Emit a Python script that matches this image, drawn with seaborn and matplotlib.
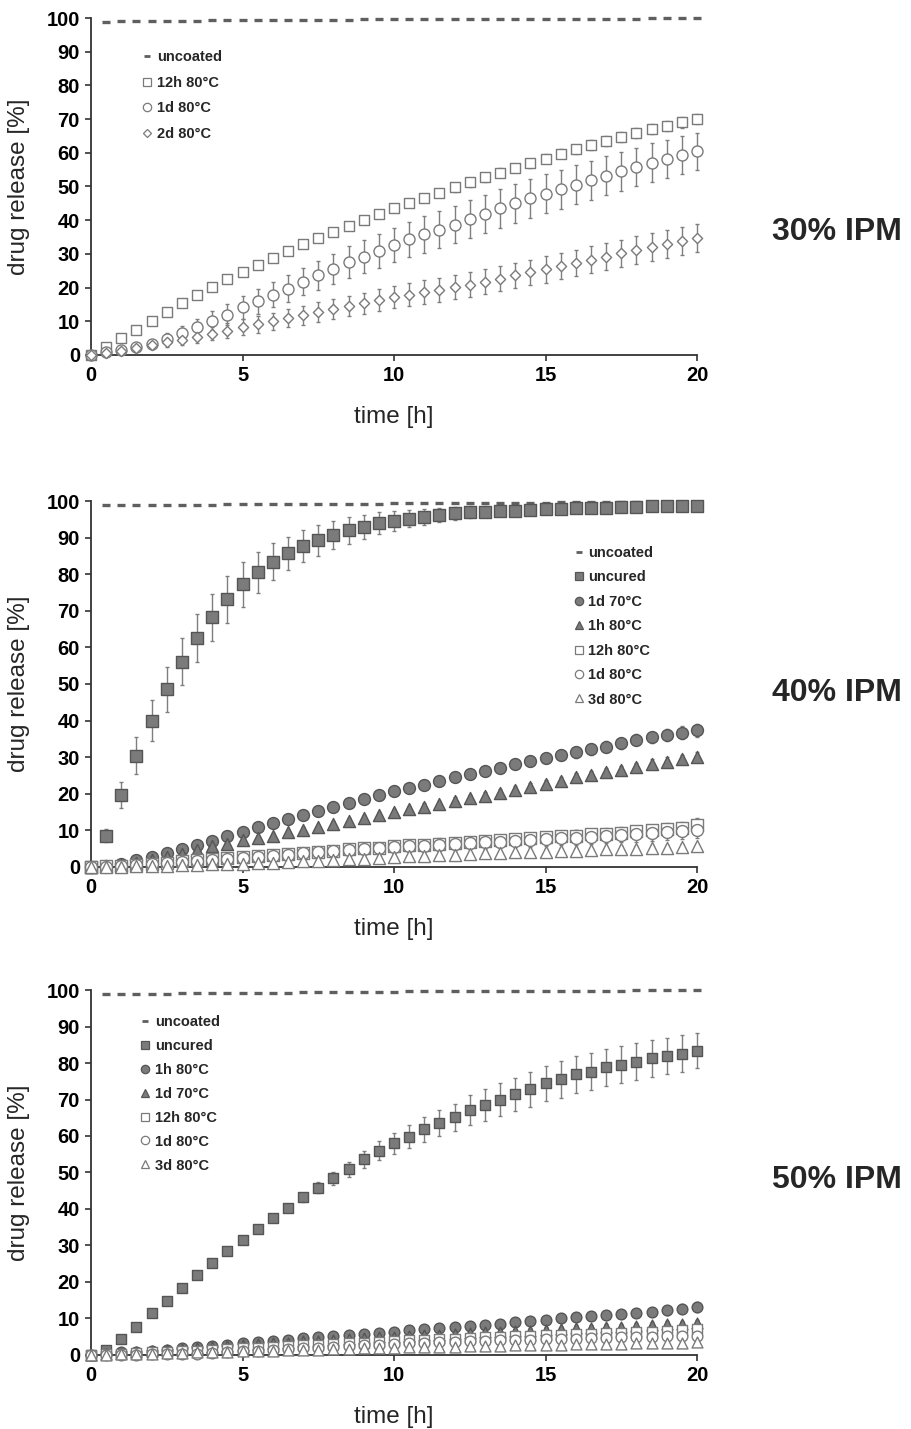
import matplotlib
matplotlib.use("Agg")
import matplotlib.pyplot as plt
from matplotlib.lines import Line2D
import seaborn as sns
import pandas as pd

sns.set_style("ticks")
plt.rcParams['font.family'] = ['Liberation Sans', 'DejaVu Sans']

# ---------------- data ----------------
TIME = [0, 0.5, 1, 1.5, 2, 2.5, 3, 3.5, 4, 4.5, 5, 5.5, 6, 6.5, 7, 7.5, 8, 8.5, 9, 9.5,
        10, 10.5, 11, 11.5, 12, 12.5, 13, 13.5, 14, 14.5, 15, 15.5, 16, 16.5, 17, 17.5,
        18, 18.5, 19, 19.5, 20]
TIME_UNCOATED = TIME[1:]

X_TICKS = [0, 5, 10, 15, 20]
Y_TICKS = [0, 10, 20, 30, 40, 50, 60, 70, 80, 90, 100]
PANEL_TITLES = ["30% IPM", "40% IPM", "50% IPM"]

# 30% IPM
top_uncoated = [98.9, 99.0, 99.0, 99.1, 99.1, 99.2, 99.2, 99.3, 99.3, 99.3, 99.4, 99.4, 99.4, 99.5,
                99.5, 99.5, 99.5, 99.6, 99.6, 99.6, 99.6, 99.6, 99.7, 99.7, 99.7, 99.7, 99.7, 99.7,
                99.8, 99.8, 99.8, 99.8, 99.8, 99.8, 99.8, 99.8, 99.9, 99.9, 99.9, 99.9]
top_12h = [0, 2.3, 5.0, 7.4, 10.0, 12.7, 15.4, 17.9, 20.3, 22.5, 24.6, 26.8, 28.9, 31.0, 33.0,
           34.6, 36.4, 38.3, 40.0, 41.9, 43.6, 45.2, 46.7, 48.2, 49.7, 51.2, 52.7, 54.1, 55.5,
           56.9, 58.3, 59.7, 61.0, 62.3, 63.5, 64.7, 65.9, 67.0, 68.0, 69.0, 70.0]
top_12h_err = [0, 0.3, 0.4, 0.5, 0.6, 0.7, 0.8, 0.8, 0.9, 0.9, 1.0, 1.0, 1.0, 1.1, 1.1, 1.1, 1.1,
               1.2, 1.2, 1.2, 1.2, 1.2, 1.2, 1.2, 1.3, 1.3, 1.3, 1.3, 1.3, 1.3, 1.3, 1.3, 1.4, 1.4,
               1.4, 1.4, 1.4, 1.4, 1.4, 1.5, 1.5]
top_1d = [0, 0.9, 1.4, 2.3, 3.2, 4.7, 6.4, 8.2, 10.2, 12.0, 14.1, 15.9, 17.9, 19.7, 21.8, 23.6,
          25.6, 27.5, 29.1, 30.9, 32.7, 34.3, 35.8, 37.2, 38.7, 40.3, 41.8, 43.5, 45.0, 46.5,
          47.9, 49.2, 50.5, 51.8, 53.2, 54.5, 55.8, 57.1, 58.2, 59.4, 60.5]
top_1d_err = [0, 0.4, 0.6, 0.9, 1.3, 1.7, 2.1, 2.5, 2.8, 3.1, 3.4, 3.6, 3.8, 3.9, 4.1, 4.3, 4.5,
              4.7, 4.9, 5.0, 5.1, 5.3, 5.4, 5.5, 5.6, 5.6, 5.7, 5.7, 5.8, 5.8, 5.8, 5.8, 5.8, 5.8,
              5.8, 5.8, 5.7, 5.7, 5.6, 5.6, 5.5]
top_2d = [0, 0.6, 1.2, 2.0, 2.9, 3.7, 4.5, 5.4, 6.3, 7.2, 8.2, 9.1, 10.0, 10.9, 11.8, 12.8, 13.6,
          14.5, 15.4, 16.3, 17.2, 17.9, 18.6, 19.3, 20.1, 20.9, 21.7, 22.6, 23.6, 24.5, 25.4,
          26.4, 27.3, 28.3, 29.2, 30.2, 31.1, 32.0, 32.9, 33.8, 34.8]
top_2d_err = [0, 0.3, 0.5, 0.8, 1.1, 1.3, 1.6, 1.8, 2.0, 2.2, 2.4, 2.5, 2.6, 2.7, 2.8, 2.9, 3.0,
              3.0, 3.1, 3.2, 3.3, 3.4, 3.5, 3.5, 3.6, 3.6, 3.7, 3.7, 3.8, 3.8, 3.9, 3.9, 3.9, 4.0,
              4.0, 4.0, 4.1, 4.1, 4.1, 4.2, 4.2]

# 40% IPM
mid_uncoated = [98.8, 98.8, 98.9, 98.9, 98.9, 99.0, 99.0, 99.0, 99.1, 99.1, 99.1, 99.2, 99.2, 99.2,
                99.2, 99.3, 99.3, 99.3, 99.3, 99.4, 99.4, 99.4, 99.4, 99.4, 99.5, 99.5, 99.5, 99.5,
                99.5, 99.5, 99.6, 99.6, 99.6, 99.6, 99.6, 99.6, 99.6, 99.7, 99.7, 99.7]
mid_uncured = [0, 8.5, 19.7, 30.4, 40.0, 48.5, 56.1, 62.5, 68.2, 73.1, 77.2, 80.5, 83.4, 85.7,
               87.7, 89.3, 90.7, 92.0, 93.0, 93.9, 94.6, 95.2, 95.7, 96.2, 96.6, 96.9, 97.1, 97.3,
               97.4, 97.5, 97.7, 97.8, 98.0, 98.1, 98.2, 98.3, 98.4, 98.5, 98.5, 98.6, 98.6]
mid_uncured_err = [0, 1.8, 3.6, 5.0, 5.7, 6.1, 6.5, 6.6, 6.4, 6.4, 6.1, 5.7, 5.1, 4.6, 4.4, 4.2,
                   3.9, 3.7, 3.3, 3.0, 2.7, 2.4, 2.2, 2.0, 1.8, 1.6, 1.5, 1.3, 1.2, 1.1, 1.0, 0.9,
                   0.8, 0.8, 0.7, 0.7, 0.6, 0.6, 0.5, 0.5, 0.5]
mid_1d70 = [0, 0.3, 0.9, 1.9, 2.8, 3.8, 4.9, 6.0, 7.2, 8.4, 9.6, 10.8, 12.0, 13.2, 14.3, 15.4, 16.4,
            17.4, 18.5, 19.7, 20.8, 21.5, 22.4, 23.5, 24.5, 25.4, 26.3, 27.1, 28.1, 29.0, 29.7,
            30.6, 31.3, 32.1, 32.9, 33.8, 34.7, 35.4, 36.1, 36.7, 37.4]
mid_1d70_err = [0, 0.2, 0.3, 0.4, 0.5, 0.5, 0.6, 0.6, 0.7, 0.7, 0.8, 0.8, 0.8, 0.9, 0.9, 0.9, 1.0,
                1.0, 1.0, 1.1, 1.1, 1.1, 1.1, 1.2, 1.2, 1.2, 1.2, 1.3, 1.3, 1.3, 1.3, 1.4, 1.4, 1.4,
                1.5, 1.5, 1.5, 1.6, 1.6, 1.7, 1.8]
mid_1h80 = [0, 0.2, 0.6, 1.2, 1.9, 2.7, 3.6, 4.6, 5.6, 6.4, 7.3, 8.0, 8.6, 9.5, 10.2, 10.9, 11.8,
            12.5, 13.4, 14.2, 15.1, 15.8, 16.5, 17.2, 18.1, 18.8, 19.4, 20.3, 21.0, 21.9, 22.6,
            23.5, 24.5, 25.1, 25.9, 26.5, 27.2, 28.1, 28.8, 29.4, 30.1]
mid_1h80_err = [0, 0.1, 0.2, 0.3, 0.3, 0.4, 0.4, 0.5, 0.5, 0.5, 0.6, 0.6, 0.6, 0.7, 0.7, 0.7, 0.7,
                0.8, 0.8, 0.8, 0.8, 0.9, 0.9, 0.9, 0.9, 1.0, 1.0, 1.0, 1.0, 1.1, 1.1, 1.1, 1.1, 1.2,
                1.2, 1.2, 1.2, 1.3, 1.3, 1.3, 1.4]
mid_12h = [0, 0.2, 0.4, 0.6, 0.9, 1.2, 1.5, 1.8, 2.1, 2.4, 2.7, 3.0, 3.3, 3.6, 3.9, 4.2, 4.5, 4.8,
           5.1, 5.3, 5.6, 5.9, 6.1, 6.4, 6.6, 6.9, 7.1, 7.4, 7.6, 7.9, 8.1, 8.4, 8.6, 8.9, 9.1, 9.4,
           9.7, 10.0, 10.3, 10.6, 11.5]
mid_12h_err = [0, 0.2, 0.3, 0.4, 0.5, 0.6, 0.7, 0.7, 0.8, 0.8, 0.9, 0.9, 1.0, 1.0, 1.0, 1.1, 1.1,
               1.1, 1.2, 1.2, 1.2, 1.2, 1.3, 1.3, 1.3, 1.3, 1.4, 1.4, 1.4, 1.4, 1.5, 1.5, 1.5, 1.5,
               1.6, 1.6, 1.6, 1.6, 1.7, 1.7, 1.8]
mid_1d80 = [0, 0.1, 0.3, 0.5, 0.8, 1.0, 1.3, 1.6, 1.9, 2.2, 2.5, 2.8, 3.1, 3.4, 3.7, 4.0, 4.3, 4.6,
            4.9, 5.1, 5.4, 5.6, 5.8, 6.1, 6.3, 6.5, 6.7, 6.9, 7.2, 7.4, 7.6, 7.8, 8.0, 8.3, 8.5,
            8.7, 9.0, 9.3, 9.6, 9.8, 10.2]
mid_1d80_err = [0, 0.2, 0.3, 0.4, 0.5, 0.6, 0.7, 0.8, 0.9, 1.0, 1.1, 1.2, 1.2, 1.3, 1.3, 1.4, 1.4,
                1.5, 1.5, 1.5, 1.6, 1.6, 1.6, 1.7, 1.7, 1.7, 1.8, 1.8, 1.8, 1.9, 1.9, 1.9, 2.0, 2.0,
                2.0, 2.0, 2.1, 2.1, 2.1, 2.2, 2.2]
mid_3d80 = [0, 0.0, 0.1, 0.2, 0.3, 0.4, 0.5, 0.6, 0.7, 0.8, 0.9, 1.0, 1.2, 1.3, 1.5, 1.7, 1.9, 2.1,
            2.3, 2.5, 2.7, 2.9, 3.0, 3.2, 3.4, 3.5, 3.7, 3.8, 4.0, 4.1, 4.2, 4.4, 4.5, 4.6, 4.8,
            4.9, 5.0, 5.1, 5.3, 5.4, 5.6]
mid_3d80_err = [0, 0.1, 0.1, 0.1, 0.2, 0.2, 0.2, 0.2, 0.3, 0.3, 0.3, 0.3, 0.3, 0.4, 0.4, 0.4, 0.4,
                0.4, 0.5, 0.5, 0.5, 0.5, 0.5, 0.5, 0.6, 0.6, 0.6, 0.6, 0.6, 0.6, 0.7, 0.7, 0.7, 0.7,
                0.7, 0.7, 0.8, 0.8, 0.8, 0.8, 0.8]

# 50% IPM
bot_uncoated = [98.8, 98.9, 98.9, 99.0, 99.0, 99.1, 99.1, 99.2, 99.2, 99.2, 99.3, 99.3, 99.3, 99.4,
                99.4, 99.4, 99.5, 99.5, 99.5, 99.5, 99.6, 99.6, 99.6, 99.6, 99.7, 99.7, 99.7, 99.7,
                99.7, 99.8, 99.8, 99.8, 99.8, 99.8, 99.8, 99.9, 99.9, 99.9, 99.9, 99.9]
bot_uncured = [0, 1.3, 4.5, 7.8, 11.4, 14.9, 18.4, 22.0, 25.2, 28.5, 31.6, 34.6, 37.5, 40.2, 43.2,
               45.8, 48.4, 50.9, 53.6, 56.0, 58.0, 59.8, 61.8, 63.6, 65.1, 67.1, 68.5, 70.0, 71.4,
               72.8, 74.4, 75.5, 76.9, 77.6, 78.8, 79.5, 80.4, 81.3, 81.9, 82.6, 83.4]
bot_uncured_err = [0, 0.3, 0.3, 0.3, 0.4, 0.4, 0.4, 0.5, 0.5, 0.5, 0.6, 0.7, 0.8, 1.0, 1.2, 1.5,
                   1.7, 2.0, 2.3, 2.6, 2.9, 3.2, 3.4, 3.6, 3.8, 4.1, 4.3, 4.5, 4.6, 4.8, 4.9, 5.0,
                   5.1, 5.1, 5.1, 5.1, 5.1, 5.0, 5.0, 5.0, 4.9]
bot_1h80 = [0, 0.4, 0.7, 0.9, 1.2, 1.5, 1.8, 2.1, 2.5, 2.8, 3.2, 3.5, 3.9, 4.2, 4.6, 4.9, 5.2, 5.5,
            5.8, 6.0, 6.3, 6.8, 7.0, 7.5, 7.7, 8.0, 8.3, 8.6, 8.9, 9.2, 9.6, 10.0, 10.4, 10.8,
            11.0, 11.2, 11.5, 11.9, 12.2, 12.7, 13.2]
bot_1h80_err = [0, 0.1, 0.1, 0.2, 0.2, 0.2, 0.3, 0.3, 0.3, 0.3, 0.4, 0.4, 0.4, 0.4, 0.5, 0.5, 0.5,
                0.5, 0.6, 0.6, 0.6, 0.6, 0.7, 0.7, 0.7, 0.7, 0.8, 0.8, 0.8, 0.8, 0.9, 0.9, 0.9, 1.0,
                1.0, 1.0, 1.1, 1.1, 1.2, 1.2, 1.3]
bot_1d70 = [0, 0.3, 0.6, 0.8, 1.0, 1.3, 1.6, 1.9, 2.2, 2.4, 2.7, 2.9, 3.2, 3.4, 3.7, 3.9, 4.1, 4.4,
            4.6, 4.8, 5.0, 5.2, 5.4, 5.6, 5.8, 6.0, 6.2, 6.4, 6.5, 6.7, 6.9, 7.1, 7.3, 7.5, 7.6,
            7.8, 8.0, 8.2, 8.4, 8.5, 8.7]
bot_1d70_err = [0, 0.1, 0.1, 0.1, 0.2, 0.2, 0.2, 0.2, 0.3, 0.3, 0.3, 0.3, 0.4, 0.4, 0.4, 0.4, 0.4,
                0.5, 0.5, 0.5, 0.5, 0.5, 0.6, 0.6, 0.6, 0.6, 0.6, 0.7, 0.7, 0.7, 0.7, 0.7, 0.8, 0.8,
                0.8, 0.8, 0.8, 0.9, 0.9, 0.9, 0.9]
bot_12h = [0, 0.3, 0.4, 0.5, 0.7, 0.8, 1.0, 1.2, 1.4, 1.6, 1.8, 2.0, 2.2, 2.4, 2.6, 2.8, 3.0, 3.2,
           3.4, 3.6, 3.8, 4.0, 4.2, 4.3, 4.5, 4.6, 4.8, 4.9, 5.1, 5.2, 5.4, 5.5, 5.7, 5.8, 6.0, 6.1,
           6.3, 6.4, 6.6, 6.8, 7.2]
bot_12h_err = [0, 0.1, 0.2, 0.2, 0.3, 0.3, 0.4, 0.4, 0.5, 0.5, 0.6, 0.6, 0.7, 0.7, 0.8, 0.8, 0.9,
               0.9, 1.0, 1.0, 1.1, 1.1, 1.1, 1.2, 1.2, 1.2, 1.3, 1.3, 1.3, 1.4, 1.4, 1.4, 1.5, 1.5,
               1.5, 1.6, 1.6, 1.6, 1.7, 1.7, 1.8]
bot_1d80 = [0, 0.1, 0.1, 0.1, 0.2, 0.2, 0.3, 0.4, 0.6, 0.8, 1.0, 1.2, 1.4, 1.6, 1.8, 2.0, 2.2, 2.4,
            2.6, 2.8, 3.0, 3.2, 3.3, 3.5, 3.6, 3.8, 3.9, 4.0, 4.1, 4.2, 4.3, 4.4, 4.5, 4.6, 4.7,
            4.8, 4.9, 5.0, 5.1, 5.2, 5.3]
bot_1d80_err = [0, 0.2, 0.3, 0.4, 0.5, 0.6, 0.7, 0.7, 0.8, 0.8, 0.9, 0.9, 1.0, 1.0, 1.1, 1.1, 1.1,
                1.2, 1.2, 1.2, 1.3, 1.3, 1.3, 1.4, 1.4, 1.4, 1.5, 1.5, 1.5, 1.6, 1.6, 1.6, 1.7, 1.7,
                1.7, 1.8, 1.8, 1.8, 1.9, 1.9, 2.0]
bot_3d80 = [0, 0.1, 0.2, 0.3, 0.4, 0.5, 0.6, 0.7, 0.8, 0.9, 1.0, 1.1, 1.2, 1.3, 1.4, 1.5, 1.6, 1.7,
            1.8, 1.9, 2.0, 2.1, 2.2, 2.2, 2.3, 2.4, 2.5, 2.5, 2.6, 2.7, 2.8, 2.8, 2.9, 3.0, 3.0,
            3.1, 3.2, 3.2, 3.3, 3.4, 3.5]
bot_3d80_err = [0, 0.1, 0.1, 0.2, 0.2, 0.2, 0.3, 0.3, 0.3, 0.3, 0.4, 0.4, 0.4, 0.4, 0.5, 0.5, 0.5,
                0.5, 0.5, 0.6, 0.6, 0.6, 0.6, 0.6, 0.7, 0.7, 0.7, 0.7, 0.7, 0.8, 0.8, 0.8, 0.8, 0.8,
                0.8, 0.9, 0.9, 0.9, 0.9, 0.9, 0.9]

# ---------------- styles ----------------
FILL = "#7b7b7b"
FILL_EDGE = "#555555"
OPEN_EDGE = "#7a7a7a"
ERR_C = "#7f7f7f"
DASH_C = "#5f5f5f"

# (marker, face, edge)
F_SQ = ("s", FILL, FILL_EDGE)
F_CI = ("o", FILL, FILL_EDGE)
F_TR = ("^", FILL, FILL_EDGE)
O_SQ = ("s", "white", OPEN_EDGE)
O_CI = ("o", "white", OPEN_EDGE)
O_DI = ("D", "white", OPEN_EDGE)
O_TR = ("^", "white", OPEN_EDGE)
SIZE = {"s": 62, "o": 70, "^": 72, "D": 30}

panels = [
    dict(uncoated=top_uncoated,
         series=[("12h 80°C", top_12h, top_12h_err, O_SQ),
                 ("1d 80°C", top_1d, top_1d_err, O_CI),
                 ("2d 80°C", top_2d, top_2d_err, O_DI)],
         rect=[0.0998, 0.7516, 0.6645, 0.2358], scale=0.9, xlab_y=-0.15,
         leg_anchor=(0.083, 0.904), leg_size=10.5, leg_space=0.79),
    dict(uncoated=mid_uncoated,
         series=[("uncured", mid_uncured, mid_uncured_err, F_SQ),
                 ("1d 70°C", mid_1d70, mid_1d70_err, F_CI),
                 ("1h 80°C", mid_1h80, mid_1h80_err, F_TR),
                 ("12h 80°C", mid_12h, mid_12h_err, O_SQ),
                 ("1d 80°C", mid_1d80, mid_1d80_err, O_CI),
                 ("3d 80°C", mid_3d80, mid_3d80_err, O_TR)],
         rect=[0.0998, 0.3933, 0.6645, 0.2561], scale=1.05, xlab_y=-0.14,
         leg_anchor=(0.795, 0.877), leg_size=10.5, leg_space=0.715),
    dict(uncoated=bot_uncoated,
         series=[("uncured", bot_uncured, bot_uncured_err, F_SQ),
                 ("1h 80°C", bot_1h80, bot_1h80_err, F_CI),
                 ("1d 70°C", bot_1d70, bot_1d70_err, F_TR),
                 ("12h 80°C", bot_12h, bot_12h_err, O_SQ),
                 ("1d 80°C", bot_1d80, bot_1d80_err, O_CI),
                 ("3d 80°C", bot_3d80, bot_3d80_err, O_TR)],
         rect=[0.0998, 0.0518, 0.6645, 0.2554], scale=0.85, xlab_y=-0.14,
         leg_anchor=(0.08, 0.9315), leg_size=10.5, leg_space=0.68),
]
TITLE_Y = [0.8376, 0.515, 0.174]

fig = plt.figure(figsize=(9.12, 14.29), dpi=100)

for p, title, ty in zip(panels, PANEL_TITLES, TITLE_Y):
    ax = fig.add_axes(p["rect"])
    ax.plot(TIME_UNCOATED, p["uncoated"], ls="none", marker="_", ms=5.5, mew=2.4,
            color=DASH_C, clip_on=False, zorder=2)
    handles = [Line2D([], [], ls="none", marker="_", ms=5, mew=2.0, color=DASH_C)]
    labels = ["uncoated"]
    for name, vals, errs, (mk, face, edge) in p["series"]:
        assert len(vals) == len(TIME) and len(errs) == len(TIME), name
        ax.errorbar(TIME, vals, yerr=errs, fmt="none", ecolor=ERR_C, elinewidth=1.0,
                    capsize=1.6, capthick=1.0, zorder=3, clip_on=False)
        df = pd.DataFrame({"t": TIME, "v": vals})
        sns.scatterplot(data=df, x="t", y="v", ax=ax, marker=mk,
                        s=SIZE[mk] * p["scale"], color=face, edgecolor=edge,
                        linewidth=1.0, clip_on=False, zorder=4, legend=False)
        handles.append(Line2D([], [], ls="none", marker=mk,
                              ms=6 if mk != "D" else 4.5,
                              markerfacecolor=face, markeredgecolor=edge, mew=0.9))
        labels.append(name)
    ax.set_xlim(0, 20)
    ax.set_ylim(0, 100)
    ax.set_xticks(X_TICKS)
    ax.set_yticks(Y_TICKS)
    sns.despine(ax=ax)
    for sp in ("left", "bottom"):
        ax.spines[sp].set_linewidth(1.3)
        ax.spines[sp].set_color("#333333")
    ax.tick_params(axis="both", direction="out", length=4, width=1.2, colors="#333333",
                   labelcolor="black", labelsize=14.5, pad=4)
    for lab in ax.get_xticklabels() + ax.get_yticklabels():
        lab.set_fontweight("bold")
    ax.set_xlabel("time [h]", fontsize=17.5)
    ax.set_ylabel("drug release [%]", fontsize=17.5)
    ax.xaxis.set_label_coords(0.5, p["xlab_y"])
    ax.yaxis.set_label_coords(-0.10, 0.5)

    ax.legend(handles, labels, loc="upper left", bbox_to_anchor=p["leg_anchor"],
              frameon=False, handlelength=0.8, handletextpad=0.25, borderpad=0,
              borderaxespad=0, labelspacing=p["leg_space"],
              prop=dict(size=p["leg_size"], weight="bold"))

    fig.text(0.918, ty, title, ha="center", va="center", fontsize=23, fontweight="bold")

fig.savefig("out.png", dpi=100, facecolor="white")
